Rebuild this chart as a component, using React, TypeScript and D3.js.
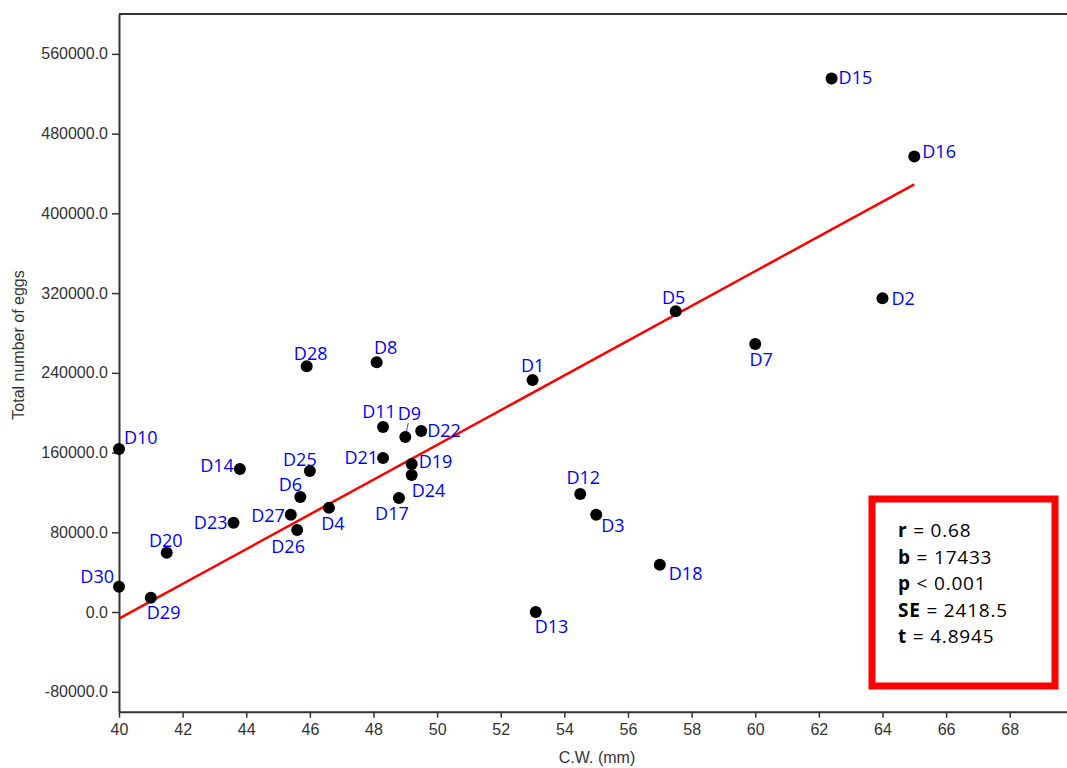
import React, { useEffect, useRef } from "react";
import * as d3 from "d3";

// sample ids, carapace width (mm) and total eggs
const ids = ["D1", "D2", "D3", "D4", "D5", "D6", "D7", "D8", "D9", "D10",
  "D11", "D12", "D13", "D14", "D15", "D16", "D17", "D18", "D19", "D20",
  "D21", "D22", "D23", "D24", "D25", "D26", "D27", "D28", "D29", "D30"];
const cw = [53.0, 64.0, 55.0, 46.6, 57.5, 45.7, 60.0, 48.1, 49.0, 40.0,
  48.3, 54.5, 53.1, 43.8, 62.4, 65.0, 48.8, 57.0, 49.2, 41.5,
  48.3, 49.5, 43.6, 49.2, 46.0, 45.6, 45.4, 45.9, 41.0, 40.0];
const eggs = [232700, 314900, 97500, 104500, 301800, 115500, 268800, 250700, 175600, 163600,
  185600, 118500, 0, 143600, 535300, 457100, 114500, 47400, 148600, 59400,
  154600, 181600, 89500, 137500, 141600, 82400, 97500, 246700, 14300, 25300];

// regression line
const slope = 17433;
const intercept = -704000;
const fitRange = [40, 65];

const yTicks = [-80000, 0, 80000, 160000, 240000, 320000, 400000, 480000, 560000];
const xTicks = [40, 42, 44, 46, 48, 50, 52, 54, 56, 58, 60, 62, 64, 66, 68];

const stats = [
  ["r", " = 0.68"],
  ["b", " = 17433"],
  ["p", " < 0.001"],
  ["SE", " = 2418.5"],
  ["t", " = 4.8945"],
];

// where each label sits next to its dot: [anchor, dx, dy]
const labelPos: Record<string, [string, number, number]> = {
  D1: ["middle", 0, -8], D2: ["start", 9, 7], D3: ["start", 5, 17], D4: ["middle", 4, 22],
  D5: ["middle", -2, -7], D6: ["middle", -10, -6], D7: ["middle", 6, 22], D8: ["middle", 9, -8],
  D9: ["middle", 4, -17], D10: ["start", 5, -5], D11: ["middle", -4, -9], D12: ["middle", 3, -10],
  D13: ["start", -1, 21], D14: ["end", -6, 3], D15: ["start", 7, 6], D16: ["start", 8, 2],
  D17: ["middle", -7, 22], D18: ["start", 9, 15], D19: ["start", 7, 4], D20: ["middle", -1, -6],
  D21: ["end", -5, 6], D22: ["start", 6, 6], D23: ["end", -6, 6], D24: ["start", 0, 22],
  D25: ["middle", -10, -5], D26: ["middle", -9, 23], D27: ["end", -6, 7], D28: ["middle", 4, -6],
  D29: ["start", -4, 21], D30: ["end", -5, -4],
};

const W = 1067, H = 768;

export default function App() {
  const ref = useRef<SVGSVGElement>(null);

  useEffect(() => {
    const svg = d3.select(ref.current);
    svg.selectAll("*").remove();

    const x = d3.scaleLinear().domain([40, 69.8]).range([119, W]);
    const y = d3.scaleLinear().domain([-100000, 600000]).range([711.7, 14]);

    const fmt = d3.formatLocale({ decimal: ".", thousands: ",", grouping: [3], currency: ["", ""], minus: "-" }).format(".1f");

    const axisColor = "#333";
    const axisFont = "'Liberation Sans', Arial, sans-serif";

    // frame top
    svg.append("line")
      .attr("x1", x(40)).attr("x2", W)
      .attr("y1", y(600000)).attr("y2", y(600000))
      .attr("stroke", axisColor).attr("stroke-width", 2);

    const yAxis = svg.append("g")
      .attr("transform", `translate(${x(40)},0)`)
      .call(d3.axisLeft(y).tickValues(yTicks).tickFormat((d: any) => fmt(d)).tickSize(7).tickSizeOuter(0).tickPadding(4));

    const xAxis = svg.append("g")
      .attr("transform", `translate(0,${y(-100000)})`)
      .call(d3.axisBottom(x).tickValues(xTicks).tickFormat(d3.format("d")).tickSize(6).tickSizeOuter(0).tickPadding(6));

    [yAxis, xAxis].forEach(a => {
      a.select(".domain").attr("stroke", axisColor).attr("stroke-width", 2);
      a.selectAll(".tick line").attr("stroke", axisColor).attr("stroke-width", 1.5);
      a.selectAll(".tick text").attr("fill", axisColor)
        .style("font-family", axisFont).style("font-size", "16px");
    });

    svg.append("text")
      .attr("x", 597).attr("y", 763)
      .attr("text-anchor", "middle")
      .style("font-family", axisFont).style("font-size", "16px").attr("fill", axisColor)
      .text("C.W. (mm)");

    svg.append("text")
      .attr("transform", "translate(24,345) rotate(-90)")
      .attr("text-anchor", "middle")
      .style("font-family", axisFont).style("font-size", "16px").attr("fill", axisColor)
      .text("Total number of eggs");

    // fitted line
    svg.append("line")
      .attr("x1", x(fitRange[0])).attr("y1", y(intercept + slope * fitRange[0]))
      .attr("x2", x(fitRange[1])).attr("y2", y(intercept + slope * fitRange[1]))
      .attr("stroke", "#ff0000").attr("stroke-width", 2.5);

    const pts = ids.map((id, i) => ({ id, cx: x(cw[i]), cy: y(eggs[i]) }));

    // D9 has a little leader line
    const d9 = pts.find(p => p.id === "D9")!;
    svg.append("line")
      .attr("x1", d9.cx + 3).attr("y1", d9.cy - 14)
      .attr("x2", d9.cx + 1).attr("y2", d9.cy - 5)
      .attr("stroke", "#0000ff").attr("stroke-width", 0.8);

    svg.append("g").selectAll("circle").data(pts).enter().append("circle")
      .attr("cx", d => d.cx).attr("cy", d => d.cy).attr("r", 6).attr("fill", "#000");

    svg.append("g").selectAll("text").data(pts).enter().append("text")
      .attr("x", d => d.cx + labelPos[d.id][1])
      .attr("y", d => d.cy + labelPos[d.id][2])
      .attr("text-anchor", d => labelPos[d.id][0])
      .style("font-family", "'Open Sans', sans-serif").style("font-size", "18px")
      .attr("fill", "#0000ff")
      .text(d => d.id);

    // stats box
    svg.append("rect")
      .attr("x", 872).attr("y", 499).attr("width", 183).attr("height", 187)
      .attr("fill", "#fff").attr("stroke", "#ff0000").attr("stroke-width", 7);

    const st = svg.append("g");
    stats.forEach((s, i) => {
      const t = st.append("text")
        .attr("x", 898).attr("y", 537 + i * 26.5)
        .style("font-family", "'Open Sans', sans-serif").style("font-size", "19px")
        .style("letter-spacing", "0.8px")
        .attr("fill", "#000");
      t.append("tspan").attr("font-weight", "bold").text(s[0]);
      t.append("tspan").style("white-space", "pre").text(s[1]);
    });
  }, []);

  return (
    <svg ref={ref} width={W} height={H}
      style={{ position: "absolute", left: 0, top: 0, background: "#fff" }} />
  );
}
